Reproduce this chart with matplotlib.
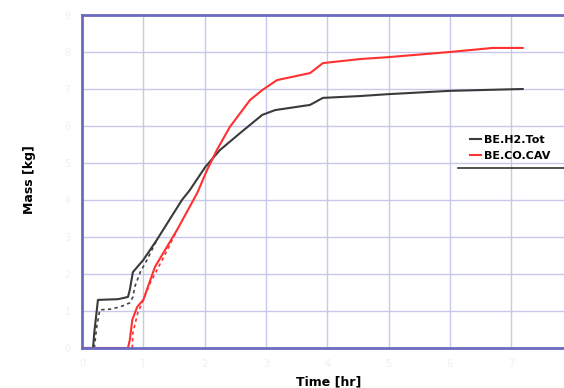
import matplotlib
matplotlib.use("Agg")
import matplotlib.pyplot as plt

# time in grid units (hr), mass in grid units (kg)
h2_time = [0.0, 0.18, 0.20, 0.26, 0.59, 0.75, 0.78, 0.83, 1.00, 1.22, 1.63, 1.76,
           2.01, 2.25, 2.58, 2.94, 3.15, 3.72, 3.93, 4.54, 4.99, 6.00, 7.19]
h2_mass = [0.0, 0.0, 0.41, 1.30, 1.32, 1.38, 1.57, 2.05, 2.38, 2.92, 4.00, 4.27,
           4.89, 5.35, 5.81, 6.30, 6.43, 6.57, 6.76, 6.81, 6.86, 6.95, 7.00]

h2_alt_time = [0.20, 0.24, 0.29, 0.46, 0.62, 0.78, 0.83, 0.86, 0.95, 1.06, 1.22]
h2_alt_mass = [0.0, 0.57, 1.03, 1.05, 1.11, 1.22, 1.38, 1.65, 2.05, 2.38, 2.92]

co_time = [0.0, 0.75, 0.78, 0.82, 0.90, 1.00, 1.19, 1.55, 1.88, 2.04, 2.20, 2.41,
           2.74, 2.94, 3.18, 3.72, 3.93, 4.54, 4.99, 6.00, 6.70, 7.19]
co_mass = [0.0, 0.0, 0.22, 0.76, 1.11, 1.30, 2.19, 3.19, 4.19, 4.81, 5.35, 5.97,
           6.70, 6.97, 7.24, 7.43, 7.70, 7.81, 7.86, 8.00, 8.11, 8.11]

co_alt_time = [0.82, 0.83, 0.91, 1.00, 1.11, 1.22, 1.35, 1.55]
co_alt_mass = [0.0, 0.41, 0.95, 1.30, 1.75, 2.10, 2.51, 3.19]

xticks = range(0, 8)
yticks = range(0, 10)

fig = plt.figure(figsize=(5.64, 3.88), dpi=100)
ax = fig.add_axes([82 / 564, 1 - 348 / 388, 1 - 82 / 564, (348 - 15) / 388])

ax.plot(h2_alt_time, h2_alt_mass, color='#444444', linestyle=(0, (2, 2)), linewidth=1.2)
ax.plot(co_alt_time, co_alt_mass, color='#ff3030', linestyle=(0, (2, 2)), linewidth=1.2)
ax.plot(h2_time, h2_mass, color='#3a3a3a', linewidth=1.5, label='BE.H2.Tot')
ax.plot(co_time, co_mass, color='#ff3030', linewidth=1.5, label='BE.CO.CAV')

ax.set_xlim(0, (564 - 82) / 61.3)
ax.set_ylim(0, 9)
ax.set_xticks(list(xticks))
ax.set_yticks(list(yticks))
ax.grid(True, color='#c8c8ec', linewidth=1.0)
ax.set_axisbelow(True)
ax.tick_params(length=0, labelsize=7, colors='#f0f0f0', pad=8)

for side in ['left', 'bottom', 'top']:
    ax.spines[side].set_color('#6a6ac0')
    ax.spines[side].set_linewidth(2)
ax.spines['right'].set_visible(False)

leg = ax.legend(loc='upper left', bbox_to_anchor=(0.785, 0.67), frameon=False,
                handlelength=1.0, handletextpad=0.2, labelspacing=0.55,
                prop={'size': 8, 'weight': 'bold'})
ax.plot([0.78, 1.0], [0.54, 0.54], transform=ax.transAxes, color='#333333',
        linewidth=1.2, clip_on=False)

fig.text(30 / 564, 1 - 180 / 388, 'Mass [kg]', rotation=90, ha='center', va='center',
         fontsize=9, fontweight='bold')
fig.text(329 / 564, 1 - 375 / 388, 'Time [hr]', ha='center', va='top',
         fontsize=9, fontweight='bold')

plt.savefig('out.png', dpi=100)
